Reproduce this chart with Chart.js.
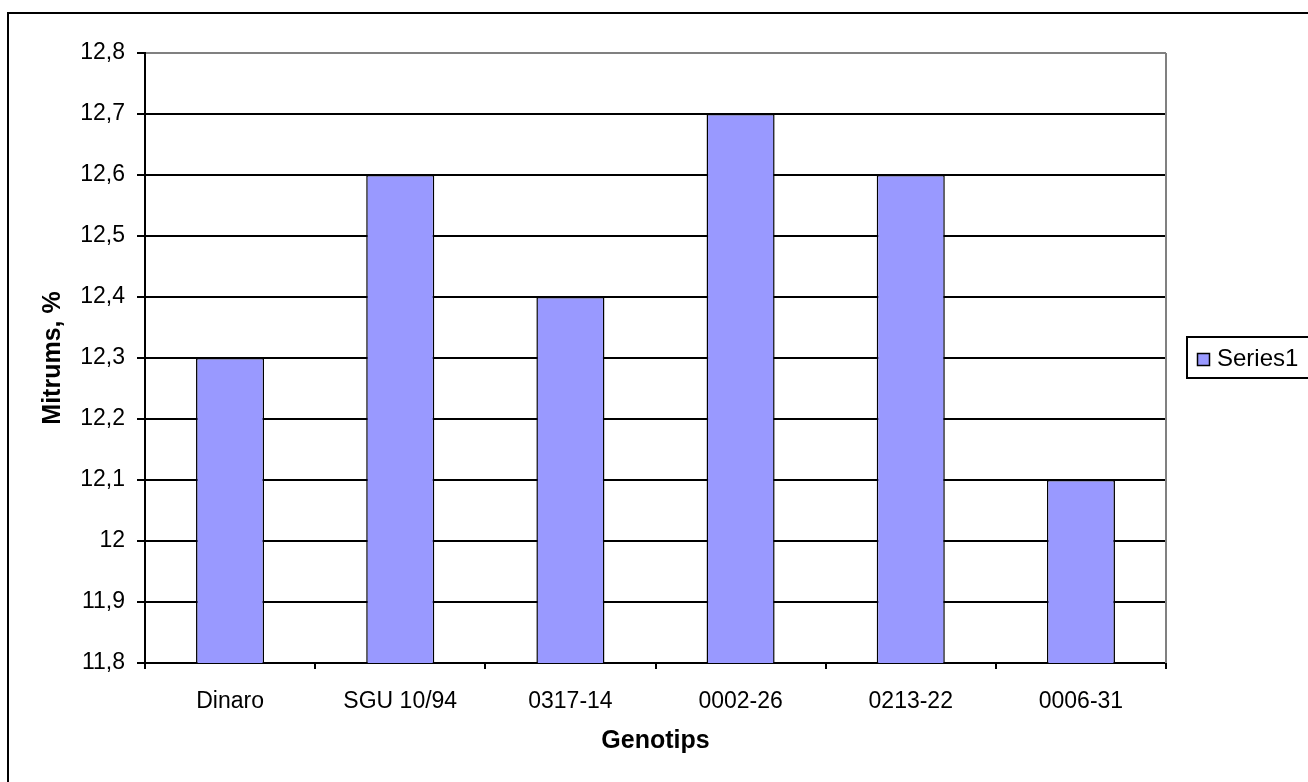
<!DOCTYPE html>
<html lang="en">
    <head>
        <meta charset="UTF-8">
        <title>Mitrums, %</title>
        <script src="https://cdn.jsdelivr.net/npm/chart.js@4.4.1/dist/chart.umd.min.js"></script>
        <style>
            body{
                margin: 0;
                background-color: #ffffff;
            }
            #chartBox{
                width: 1308px;
                height: 782px;
            }
        </style>
    </head>
    <body>
        <div id="chartBox"><canvas id="barchart"></canvas></div>

        <script>
            var chartLabels = ['Dinaro', 'SGU 10/94', '0317-14', '0002-26', '0213-22', '0006-31'];
            var chartValues = [12.3, 12.6, 12.4, 12.7, 12.6, 12.1];
            var seriesName = 'Series1';
            var yMin = 11.8;
            var yMax = 12.8;
            var yStep = 0.1;

            var fontFamily = '"Liberation Sans", Arial, sans-serif';

            // outer frame, grey plot edges and the boxed legend
            const framePlugin = {
                id: 'frame',
                afterDraw(chart){
                    const ctx = chart.ctx;
                    const area = chart.chartArea;
                    ctx.save();
                    // right edge of plot area
                    ctx.strokeStyle = '#808080';
                    ctx.lineWidth = 2;
                    ctx.beginPath();
                    ctx.moveTo(area.right, area.top);
                    ctx.lineTo(area.right, area.bottom);
                    ctx.stroke();

                    // outer chart border (runs off the page right/bottom)
                    ctx.strokeStyle = '#000';
                    ctx.lineWidth = 2;
                    ctx.strokeRect(8, 13, 1400, 900);

                    // legend
                    const lx = 1187, ly = 337, lw = 130, lh = 41;
                    ctx.lineWidth = 2;
                    ctx.fillStyle = '#fff';
                    ctx.fillRect(lx, ly, lw, lh);
                    ctx.strokeRect(lx, ly, lw, lh);
                    const ds = chart.data.datasets[0];
                    ctx.fillStyle = ds.backgroundColor;
                    ctx.fillRect(1197, 353, 13, 13);
                    ctx.lineWidth = 1.5;
                    ctx.strokeRect(1197.5, 353.5, 12, 12);
                    ctx.fillStyle = '#000';
                    ctx.font = '24px ' + fontFamily;
                    ctx.textBaseline = 'middle';
                    ctx.textAlign = 'left';
                    ctx.fillText(ds.label, 1217, 359);
                    ctx.restore();
                }
            };

            const ctx = document.getElementById('barchart').getContext('2d');
            const chart = new Chart(ctx, {
                type: 'bar',
                data: {
                    labels: chartLabels,
                    datasets: [{
                        label: seriesName,
                        data: chartValues,
                        backgroundColor: '#9999FF',
                        borderColor: '#000000',
                        borderWidth: 1.5,
                        categoryPercentage: 1,
                        barPercentage: 0.4
                    }]
                },
                options: {
                    responsive: true,
                    maintainAspectRatio: false,
                    animation: false,
                    layout: {
                        padding: { left: 20, top: 53, right: 142, bottom: 20 }
                    },
                    plugins: {
                        legend: { display: false },
                        tooltip: { enabled: false }
                    },
                    scales: {
                        x: {
                            afterFit: function(scale){ scale.height = 99; },
                            grid: {
                                offset: true,
                                drawOnChartArea: false,
                                drawTicks: true,
                                tickLength: 6,
                                tickColor: '#000',
                                lineWidth: 2
                            },
                            border: { color: '#000', width: 2 },
                            ticks: {
                                color: '#000',
                                padding: 19,
                                maxRotation: 0,
                                font: { family: fontFamily, size: 23 }
                            },
                            title: {
                                display: true,
                                text: 'Genotips',
                                color: '#000',
                                padding: { top: 0, bottom: 6 },
                                font: { family: fontFamily, size: 25, weight: 'bold' }
                            }
                        },
                        y: {
                            min: yMin,
                            max: yMax,
                            afterFit: function(scale){ scale.width = 125; },
                            grid: {
                                color: function(c){
                                    return (c.tick && Math.abs(c.tick.value - yMax) < 1e-6) ? '#808080' : '#000';
                                },
                                tickColor: '#000',
                                tickLength: 8,
                                lineWidth: 2
                            },
                            border: { color: '#000', width: 2 },
                            ticks: {
                                stepSize: yStep,
                                color: '#000',
                                padding: 12,
                                font: { family: fontFamily, size: 23 },
                                callback: function(v){
                                    return (Math.round(v * 10) / 10).toString().replace('.', ',');
                                }
                            },
                            title: {
                                display: true,
                                text: 'Mitrums, %',
                                color: '#000',
                                padding: { top: 18, bottom: 0 },
                                font: { family: fontFamily, size: 25, weight: 'bold' }
                            }
                        }
                    }
                },
                plugins: [framePlugin]
            });
        </script>
    </body>
</html>
